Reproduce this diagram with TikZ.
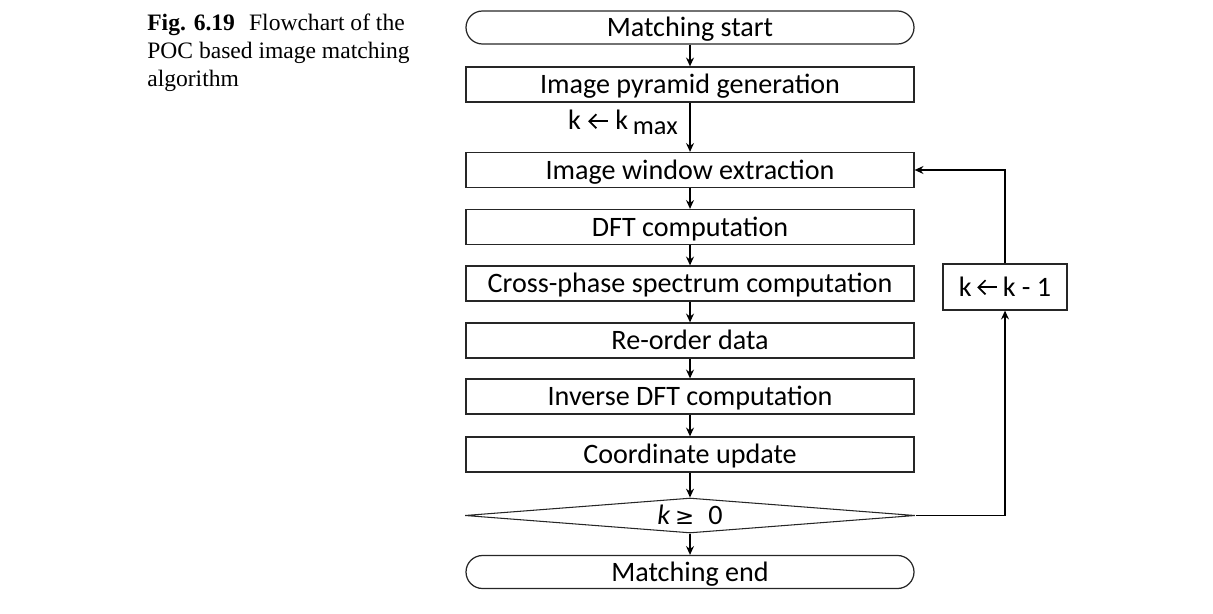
\documentclass[tikz,border=0pt]{standalone}
\usepackage{amsmath}
\usepackage{amssymb}
\usepackage{fontspec}
\setmainfont{Carlito}
\newfontfamily\capfont{Liberation Serif}
\newfontfamily\symfont{DejaVu Sans}
\usepackage{tikz}
\usetikzlibrary{arrows.meta,shapes.geometric}
\newcommand{\larr}{\tikz[baseline=-5pt]\draw[line width=1pt,{Straight Barb[length=4pt,width=8pt]}-] (0,0) -- (0.4,0);}

\begin{document}
\begin{tikzpicture}[
		font=\fontsize{16}{19}\selectfont,
		stepbox/.style={draw=black!85,line width=0.7pt,minimum width=8.96cm,minimum height=0.7cm,inner sep=0pt,text height=10.3pt,text depth=0pt},
		termbox/.style={stepbox,rounded corners=0.33cm,minimum height=0.66cm},
		testbox/.style={draw=black!85,line width=0.6pt,diamond,aspect=12.8,inner sep=0pt,minimum width=9cm,minimum height=0.7cm,text height=10.3pt,text depth=0pt},
		flow/.style={line width=1.1pt,-{Stealth[length=5pt,width=4.5pt]}}
	]
			\useasboundingbox (0,0) rectangle (24.26,12.26);
			\node[anchor=north west,align=left,inner sep=0pt,font=\capfont\fontsize{13.4}{15.8}\selectfont] (caption) at (2.94,11.98) {\textbf{Fig. 6.19}\hspace{0.6em}Flowchart of the\\POC based image matching\\algorithm};
			\node[termbox] (start) at (13.8,11.71) {Matching start};
			\node[stepbox] (pyr) at (13.8,10.57) {Image pyramid generation};
			\node[stepbox] (win) at (13.8,8.86) {Image window extraction};
			\node[stepbox] (dft) at (13.8,7.72) {DFT computation};
			\node[stepbox] (cross) at (13.8,6.59) {Cross-phase spectrum computation};
			\node[stepbox] (reorder) at (13.8,5.45) {Re-order data};
			\node[stepbox] (idft) at (13.8,4.33) {Inverse DFT computation};
			\node[stepbox] (coord) at (13.8,3.17) {Coordinate update};
			\node[testbox] (test) at (13.8,1.95) {\textit{k}\,{\symfont\fontsize{13}{13}\selectfont ≥}\hspace{0.5em}0};
			\node[termbox] (end) at (13.8,0.82) {Matching end};
			\node[draw=black!85,line width=0.7pt,minimum width=2.48cm,minimum height=0.92cm,inner sep=0pt,text height=10.3pt,text depth=0pt] (dec) at (20.1,6.52) {k\,\larr\,k - 1};
			\node[anchor=base east,inner sep=0pt] (kmax) at (13.56,9.66) {k \larr{} k\,\raisebox{-0.3ex}{\fontsize{15}{15}\selectfont max}};
			\draw[flow] (start) -- (pyr);
			\draw[flow] (pyr) -- (win);
			\draw[flow] (win) -- (dft);
			\draw[flow] (dft) -- (cross);
			\draw[flow] (cross) -- (reorder);
			\draw[flow] (reorder) -- (idft);
			\draw[flow] (idft) -- (coord);
			\draw[flow] (coord) -- (test);
			\draw[flow] (test) -- (end);
			\draw[flow] (test.east) -| (dec.south);
			\draw[flow] (dec.north) |- (win.east);
		\end{tikzpicture}
\end{document}
